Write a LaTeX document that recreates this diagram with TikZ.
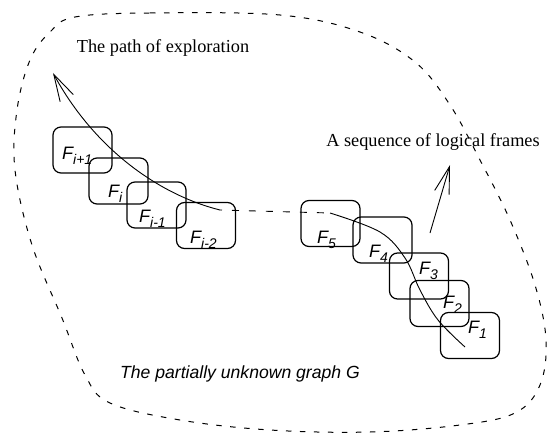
\documentclass[tikz,border=0pt]{standalone}
\usepackage{fontspec}
\setmainfont{Liberation Serif}
\newfontfamily\labfont{Liberation Sans}
\usetikzlibrary{arrows.meta}
\newcommand\FF[1]{F\raisebox{-0.32em}{\fontsize{14}{14}\selectfont #1}}
\begin{document}
\begin{tikzpicture}[x=1pt,y=-1pt,
  frame/.style={draw,line width=1.2pt,rounded corners=8pt,minimum width=59pt,minimum height=46pt,inner sep=0pt},
  flab/.style={anchor=base west,inner sep=0pt,font=\labfont\itshape\fontsize{18}{18}\selectfont},
  serif/.style={font=\fontsize{18.3}{20}\selectfont,inner sep=0pt},
  path/.style={line width=0.9pt},
  barb/.style={-{Straight Barb[length=27pt,width=15pt,line width=0.9pt]}},
  bound/.style={line width=1pt,dash pattern=on 5.5pt off 8.5pt}]
\useasboundingbox (0,0) rectangle (549,436);
% boundary
\draw[bound] plot[smooth cycle,tension=0.6] coordinates {(75,17) (150,13) (280,15) (360,32) (415,62) (450,105) (480,160) (510,220) (535,285) (546,340) (540,385) (515,413) (460,425) (370,432) (270,430) (180,420) (110,403) (85,375) (62,318) (32,245) (15,170) (17,110) (30,60) (50,32)};
% frames
\node[frame] (fi1) at (82.5,150) {};
\node[frame] (fi) at (118.5,181) {};
\node[frame] (fim1) at (156.5,205) {};
\node[frame] (fim2) at (206,225.5) {};
\node[frame] (f5) at (330.5,223.5) {};
\node[frame] (f4) at (382.5,240) {};
\node[frame] (f3) at (419,276) {};
\node[frame] (f2) at (439.5,303.5) {};
\node[frame] (f1) at (470,335.5) {};
% labels
\node[flab] (lfi1) at (62,159) {\FF{i+1}};
\node[flab] (lfi) at (108,197) {\FF{i}};
\node[flab] (lfim1) at (139,222) {\FF{i-1}};
\node[flab] (lfim2) at (190,243) {\FF{i-2}};
\node[flab] (lf5) at (317,243) {\FF{5}};
\node[flab] (lf4) at (369,257) {\FF{4}};
\node[flab] (lf3) at (419,274) {\FF{3}};
\node[flab] (lf2) at (443,308) {\FF{2}};
\node[flab] (lf1) at (468,333) {\FF{1}};
% texts
\node[serif] (tpath) at (163,48) {The path of exploration};
\node[serif] (tseq) at (433,142) {A sequence of logical frames};
\node[inner sep=0pt,font=\labfont\itshape\fontsize{17.6}{18}\selectfont] (tgraph) at (240,374) {The partially unknown graph G};
% paths
\coordinate (ls) at (220,210);
\coordinate (lt) at (53,73);
\coordinate (rs) at (330,213);
\coordinate (r1) at (380,232);
\coordinate (r2) at (405,258);
\coordinate (r3) at (420,290);
\coordinate (r4) at (438,320);
\coordinate (re) at (465,347);
\coordinate (as) at (430,233);
\coordinate (at) at (450,165);
\draw[path,barb] (ls) .. controls (160,195) and (95,150) .. (lt);
\draw[path,dash pattern=on 7pt off 10pt,dash phase=-12pt] (ls) -- (rs);
\draw[path] plot[smooth,tension=0.6] coordinates {(rs) (r1) (r2) (r3) (r4) (re)};
\draw[path,barb] (as) -- (at);
\end{tikzpicture}
\end{document}
